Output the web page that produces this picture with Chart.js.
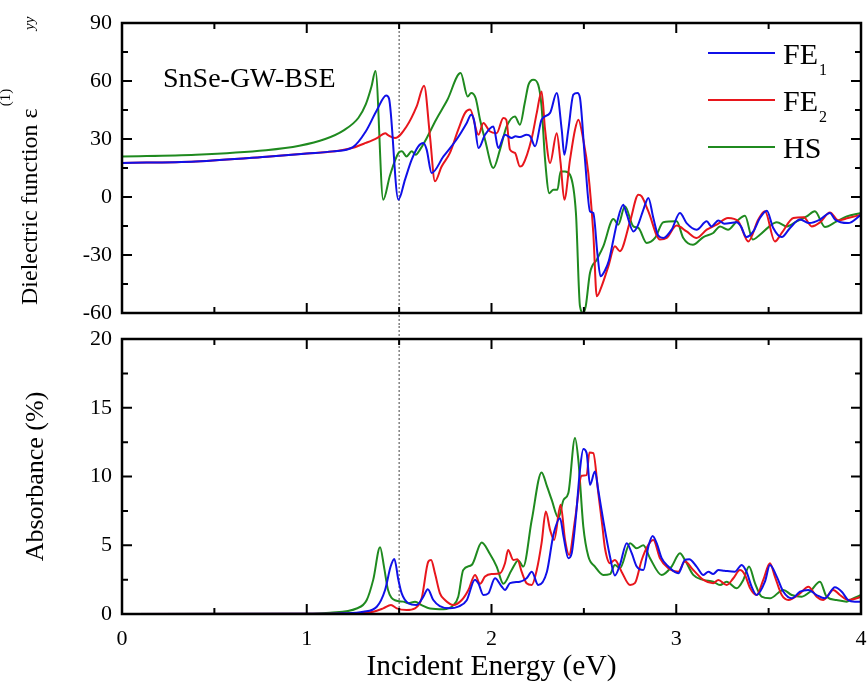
<!DOCTYPE html>
<html>
<head>
<meta charset="utf-8">
<script src="https://cdn.jsdelivr.net/npm/chart.js@4.4.0/dist/chart.umd.min.js"></script>
<style>
  body { margin: 0; background: #fff; overflow: hidden; }
  #wrap { position: relative; width: 867px; height: 686px; }
  canvas { position: absolute; left: 0; }
  #eps-canvas { top: 0; }
  #abs-canvas { top: 326px; }
</style>
</head>
<body>
<div id="wrap">
  <canvas id="eps-canvas" width="867" height="326"></canvas>
  <canvas id="abs-canvas" width="867" height="360"></canvas>
</div>
<script>
// ---- data: [energy eV, value] ----
const seriesNames = ['FE', 'FE', 'HS'];
const seriesSubs = ['1', '2', ''];
const seriesColors = ['#1010e8', '#e8161c', '#1f8a1f'];

const fe1Eps = [[0,17.6],[0.4,18.4],[0.8,21],[1.0,22.5],[1.14,23.6],[1.25,25.8],[1.32,34],[1.38,45],[1.43,52.5],[1.445,51],
  [1.496,-1.4],[1.532,9],[1.568,19.3],[1.604,26.2],[1.631,27.9],[1.649,24.5],[1.676,12.4],[1.74,21],[1.81,29.6],[1.866,38.3],
  [1.89,42.6],[1.905,40],[1.93,25.3],[1.965,32.2],[2.01,36.5],[2.037,25.3],[2.073,32.2],[2.109,30.5],[2.13,31.4],[2.154,31],
  [2.19,32.2],[2.21,31.4],[2.236,26.2],[2.271,40],[2.317,43.5],[2.353,53.8],[2.38,34.8],[2.394,21.9],[2.416,34.8],[2.443,52.9],
  [2.465,53.8],[2.479,51.2],[2.506,19.3],[2.533,-7.4],[2.551,-8.3],[2.573,-29],[2.59,-41],[2.614,-38],[2.635,-33],[2.66,-22],
  [2.68,-13],[2.713,-4],[2.73,-8.3],[2.768,-17.8],[2.79,-15.2],[2.825,-5.7],[2.849,-0.5],[2.876,-10.9],[2.903,-20],[2.93,-21.2],
  [2.975,-16.9],[3.02,-8.3],[3.056,-13.5],[3.11,-16.9],[3.165,-12.6],[3.19,-15.2],[3.228,-12.1],[3.26,-13.8],[3.327,-13.1],[3.35,-15.2],
  [3.38,-20.7],[3.417,-17.8],[3.453,-10.9],[3.49,-7.1],[3.525,-16],[3.571,-20.7],[3.616,-16],[3.67,-11.7],[3.72,-13.5],[3.778,-11.7],
  [3.832,-8.3],[3.86,-11.7],[3.93,-13.5],[4.0,-9.2]];

const fe2Eps = [[0,17.6],[0.4,18.4],[0.8,21],[1.0,22.5],[1.14,23.5],[1.25,25.5],[1.32,28],[1.38,30.5],[1.425,33],[1.44,32],
  [1.478,30.5],[1.54,36.5],[1.595,46.9],[1.635,57.6],[1.667,31.4],[1.694,8.1],[1.73,15.8],[1.775,22.8],[1.82,34.8],[1.857,43.5],
  [1.884,45.2],[1.93,32.2],[1.956,38.3],[1.99,34],[2.028,33],[2.064,40.9],[2.08,40],[2.1,24.5],[2.127,22.8],[2.154,15.8],
  [2.17,16.7],[2.218,30.5],[2.245,43.5],[2.271,54.6],[2.29,34.8],[2.317,17.6],[2.353,33],[2.374,17.6],[2.394,-1.4],[2.425,19.3],
  [2.452,34.8],[2.47,40],[2.497,29.6],[2.524,12.4],[2.551,-18.6],[2.57,-51.4],[2.596,-46.2],[2.632,-36],[2.668,-25.5],[2.695,-28],
  [2.75,-12.6],[2.795,1.2],[2.813,0.3],[2.849,-7.4],[2.912,-22],[2.948,-21.2],[3.002,-14.8],[3.056,-17.8],[3.11,-21.2],[3.165,-16.9],
  [3.219,-14.3],[3.28,-10.9],[3.336,-12.6],[3.39,-23],[3.444,-11.7],[3.48,-7.4],[3.534,-23],[3.571,-18.6],[3.634,-10.9],[3.69,-10.5],
  [3.733,-15.2],[3.778,-13.1],[3.832,-8],[3.877,-12.1],[3.93,-10.9],[4.0,-9.2]];

const hsEps = [[0,21],[0.4,21.9],[0.78,24.2],[0.96,26.5],[1.1,30],[1.2,34.5],[1.28,41],[1.32,48],[1.35,57],[1.372,65.2],[1.414,-1.4],
  [1.45,11],[1.496,22.7],[1.515,23.6],[1.54,21],[1.568,23.6],[1.59,21.9],[1.613,24.5],[1.64,28.8],[1.7,40],[1.76,50],
  [1.833,64.1],[1.871,52],[1.89,53.8],[1.914,51.2],[1.938,40],[1.965,29.6],[2.01,15],[2.046,24.5],[2.082,36.5],[2.127,41.7],
  [2.154,37.4],[2.18,48.6],[2.2,58],[2.226,60.7],[2.253,58],[2.271,46.9],[2.29,19.3],[2.313,2],[2.335,3.8],[2.357,3.8],
  [2.374,13.2],[2.398,13.2],[2.425,11.5],[2.457,-8.3],[2.479,-56.6],[2.497,-60],[2.51,-56.6],[2.533,-39.3],[2.57,-32.4],[2.605,-25.5],
  [2.66,-11.4],[2.686,-14.3],[2.722,-4.8],[2.768,-15.2],[2.795,-16],[2.84,-23.8],[2.885,-21.2],[2.93,-13.1],[3.002,-12.6],[3.038,-21.2],
  [3.09,-24.7],[3.147,-20.7],[3.2,-18.6],[3.237,-15.2],[3.28,-16.9],[3.327,-12.6],[3.372,-9.7],[3.414,-22],[3.453,-19.5],[3.498,-15.7],
  [3.544,-13.1],[3.6,-15.2],[3.652,-12.6],[3.706,-10],[3.75,-7.4],[3.805,-15.5],[3.868,-12.6],[3.923,-10],[4.0,-8.3]];

const fe1Abs = [[0,0],[1.0,0.01],[1.2,0.05],[1.306,0.17],[1.379,0.53],[1.424,1.75],[1.454,3.45],[1.474,4.0],[1.496,2.48],[1.514,1.5],
  [1.55,0.78],[1.595,0.65],[1.631,1.26],[1.655,1.8],[1.685,1.02],[1.72,0.58],[1.775,0.41],[1.82,0.53],[1.866,1.0],[1.91,2.5],
  [1.93,2.2],[1.956,1.38],[1.983,1.5],[2.019,2.6],[2.055,2.0],[2.073,1.75],[2.1,2.24],[2.154,2.35],[2.19,2.6],[2.218,3.08],
  [2.253,2.11],[2.3,3.08],[2.335,5.75],[2.371,6.97],[2.39,5.63],[2.416,4.06],[2.434,4.42],[2.457,7.09],[2.479,10.5],[2.497,12.0],
  [2.515,11.7],[2.533,9.4],[2.56,10.36],[2.578,9.0],[2.605,6.8],[2.641,4.2],[2.668,2.8],[2.695,3.57],[2.732,5.15],[2.759,4.42],
  [2.786,3.45],[2.822,3.2],[2.849,4.9],[2.872,5.68],[2.894,5.15],[2.921,4.06],[2.957,3.45],[3.011,2.96],[3.047,3.93],[3.07,3.98],
  [3.11,3.45],[3.147,2.84],[3.174,3.08],[3.2,2.91],[3.228,3.2],[3.26,3.15],[3.318,3.08],[3.354,3.57],[3.38,3.08],[3.408,1.99],
  [3.435,1.38],[3.48,2.35],[3.507,3.57],[3.544,2.72],[3.58,1.62],[3.625,1.14],[3.67,1.62],[3.715,1.75],[3.76,1.38],[3.805,1.14],
  [3.859,1.94],[3.896,1.62],[3.93,1.02],[3.967,0.9],[4.0,0.9]];

const fe2Abs = [[0,0],[1.0,0.01],[1.2,0.03],[1.36,0.17],[1.414,0.41],[1.456,0.65],[1.487,0.41],[1.54,0.29],[1.586,0.41],[1.622,1.14],
  [1.658,3.81],[1.673,3.93],[1.694,2.96],[1.721,1.5],[1.748,1.02],[1.794,0.65],[1.839,1.02],[1.875,1.75],[1.911,2.84],[1.938,2.2],
  [1.965,2.72],[2.0,2.91],[2.046,2.96],[2.073,3.69],[2.09,4.66],[2.118,3.93],[2.14,3.98],[2.163,3.08],[2.19,2.24],[2.218,2.11],
  [2.245,3.2],[2.271,5.15],[2.294,7.45],[2.317,6.12],[2.339,5.39],[2.374,7.94],[2.398,5.39],[2.42,4.3],[2.452,6.85],[2.488,10.05],
  [2.515,10.1],[2.53,11.75],[2.551,11.7],[2.578,8.8],[2.6,6.4],[2.614,4.8],[2.641,3.7],[2.668,3.93],[2.704,3.08],[2.75,2.11],
  [2.776,2.24],[2.813,3.93],[2.849,5.03],[2.876,5.39],[2.912,4.06],[2.957,3.33],[3.011,3.08],[3.047,3.81],[3.092,3.2],[3.147,2.48],
  [3.2,2.24],[3.228,2.48],[3.273,2.11],[3.309,2.6],[3.345,3.2],[3.372,2.84],[3.4,1.87],[3.435,1.38],[3.471,2.48],[3.507,3.69],
  [3.534,2.72],[3.571,1.38],[3.607,1.02],[3.67,1.5],[3.715,1.99],[3.76,1.26],[3.796,1.02],[3.85,1.75],[3.886,1.38],[3.93,1.02],
  [3.976,1.14],[4.0,1.26]];

const hsAbs = [[0,0],[0.9,0.01],[1.126,0.1],[1.27,0.4],[1.324,1.0],[1.36,2.5],[1.397,4.86],[1.418,3.45],[1.44,1.75],[1.478,1.0],
  [1.522,0.9],[1.55,0.78],[1.586,0.9],[1.622,0.65],[1.667,0.4],[1.74,0.35],[1.794,0.65],[1.82,1.26],[1.847,3.2],[1.893,3.57],
  [1.947,5.2],[1.99,4.4],[2.028,3.45],[2.064,2.2],[2.109,3.2],[2.145,3.9],[2.172,3.45],[2.218,6.85],[2.271,10.3],[2.3,9.3],
  [2.326,8.3],[2.362,7.0],[2.39,8.3],[2.416,8.8],[2.452,12.8],[2.47,11.2],[2.497,6.36],[2.524,4.2],[2.56,3.45],[2.605,2.84],
  [2.641,2.9],[2.668,3.57],[2.695,3.33],[2.75,5.15],[2.786,4.78],[2.822,5.0],[2.858,4.06],[2.921,2.84],[2.975,3.45],[3.02,4.42],
  [3.047,3.93],[3.092,2.84],[3.147,2.48],[3.2,2.35],[3.237,2.11],[3.273,2.35],[3.327,1.87],[3.363,2.48],[3.394,3.45],[3.426,2.24],
  [3.462,1.26],[3.507,1.14],[3.58,1.75],[3.625,1.38],[3.679,1.26],[3.724,1.62],[3.778,2.35],[3.814,1.26],[3.868,1.02],[3.923,0.9],
  [3.958,1.14],[4.0,1.38]];

const xMajor = [0, 1, 2, 3, 4];
const xMinor = [0.5, 1.5, 2.5, 3.5];
const epsMajor = [-60, -30, 0, 30, 60, 90];
const epsMinor = [-45, -15, 15, 45, 75];
const absMajor = [0, 5, 10, 15, 20];
const absMinor = [2.5, 7.5, 12.5, 17.5];
const markerEnergy = 1.5;
const sampleLabel = 'SnSe-GW-BSE';

const SERIF = '"Liberation Serif", "Times New Roman", serif';

function toPoints(pairs) {
  return pairs.map(p => ({ x: p[0], y: p[1] }));
}

function makeDatasets(list) {
  return list.map((pairs, i) => ({
    label: seriesNames[i] + seriesSubs[i],
    data: toPoints(pairs),
    borderColor: seriesColors[i],
    borderWidth: 2,
    pointRadius: 0,
    fill: false,
    cubicInterpolationMode: 'monotone',
  }));
}

// keep the plot box where the layout padding puts it (labels may overhang)
function fixWidth(w) {
  return (s) => { s.width = w; s.paddingTop = 0; s.paddingBottom = 0; s.paddingLeft = 0; s.paddingRight = 0; };
}
function fixHeight(h) {
  return (s) => { s.height = h; s.paddingTop = 0; s.paddingBottom = 0; s.paddingLeft = 0; s.paddingRight = 0; };
}

// frame, inward ticks on all sides, dotted marker line
const frameTicks = {
  id: 'frameTicks',
  beforeDatasetsDraw(chart, args, opts) {
    const { ctx, chartArea: a, scales } = chart;
    const px = scales.x.getPixelForValue(markerEnergy);
    ctx.save();
    ctx.strokeStyle = '#444';
    ctx.lineWidth = 1;
    ctx.setLineDash([2, 2]);
    ctx.beginPath();
    ctx.moveTo(px, opts.lineTop === 'canvas' ? 0 : a.top);
    ctx.lineTo(px, opts.lineBottom === 'canvas' ? chart.height : a.bottom);
    ctx.stroke();
    ctx.restore();
  },
  afterDraw(chart, args, opts) {
    const { ctx, chartArea: a, scales } = chart;
    const x = scales.x, y = scales.y;
    ctx.save();
    ctx.strokeStyle = '#000';
    ctx.lineWidth = 2;
    ctx.beginPath();
    const xt = (v, len) => {
      const p = x.getPixelForValue(v);
      ctx.moveTo(p, a.bottom); ctx.lineTo(p, a.bottom - len);
      ctx.moveTo(p, a.top); ctx.lineTo(p, a.top + len);
    };
    const yt = (v, len) => {
      const p = y.getPixelForValue(v);
      ctx.moveTo(a.left, p); ctx.lineTo(a.left + len, p);
      ctx.moveTo(a.right, p); ctx.lineTo(a.right - len, p);
    };
    xMajor.forEach(v => xt(v, 10));
    xMinor.forEach(v => xt(v, 6));
    opts.yMajor.forEach(v => yt(v, 10));
    opts.yMinor.forEach(v => yt(v, 6));
    ctx.stroke();
    ctx.lineWidth = 2.5;
    ctx.strokeRect(a.left, a.top, a.right - a.left, a.bottom - a.top);
    ctx.restore();
  }
};

// legend, sample label and the y title with super/subscripts (top panel)
const epsText = {
  id: 'epsText',
  afterDraw(chart) {
    const { ctx } = chart;
    ctx.save();
    ctx.fillStyle = '#000';
    ctx.font = '28px ' + SERIF;
    ctx.textBaseline = 'alphabetic';
    ctx.fillText(sampleLabel, 163, 87);

    const rows = [53, 100, 147];
    rows.forEach((ry, i) => {
      ctx.strokeStyle = seriesColors[i];
      ctx.lineWidth = 2;
      ctx.beginPath();
      ctx.moveTo(708, ry);
      ctx.lineTo(775, ry);
      ctx.stroke();
      ctx.font = '30px ' + SERIF;
      ctx.fillText(seriesNames[i], 783, ry + 11);
      if (seriesSubs[i]) {
        const w = ctx.measureText(seriesNames[i]).width;
        ctx.font = '16px ' + SERIF;
        ctx.fillText(seriesSubs[i], 783 + w + 1, ry + 22);
      }
    });

    ctx.translate(37, 305);
    ctx.rotate(-Math.PI / 2);
    ctx.font = '24px ' + SERIF;
    const main = 'Dielectric function ε';
    ctx.fillText(main, 0, 0);
    const w = ctx.measureText(main).width;
    ctx.font = '15px ' + SERIF;
    ctx.fillText('(1)', w + 2, -27);
    ctx.font = 'italic 15px ' + SERIF;
    ctx.fillText('yy', 275, -3);
    ctx.restore();
  }
};

const tickFont = { family: SERIF, size: 22 };

const epsChart = new Chart('eps-canvas', {
  type: 'line',
  data: { datasets: makeDatasets([fe1Eps, fe2Eps, hsEps]) },
  options: {
    responsive: false,
    animation: false,
    layout: { padding: { top: 23, right: 6, bottom: 13, left: 0 } },
    scales: {
      x: {
        type: 'linear', min: 0, max: 4, display: false,
      },
      y: {
        min: -60, max: 90,
        afterFit: fixWidth(122),
        grid: { display: false, drawTicks: false },
        border: { display: false },
        ticks: { stepSize: 30, padding: 10, color: '#000', font: tickFont },
      },
    },
    plugins: {
      legend: { display: false },
      tooltip: { enabled: false },
      frameTicks: { yMajor: epsMajor, yMinor: epsMinor, lineBottom: 'canvas' },
    },
  },
  plugins: [frameTicks, epsText],
});

const absChart = new Chart('abs-canvas', {
  type: 'line',
  data: { datasets: makeDatasets([fe1Abs, fe2Abs, hsAbs]) },
  options: {
    responsive: false,
    animation: false,
    layout: { padding: { top: 13, right: 6, bottom: 0, left: 0 } },
    scales: {
      x: {
        type: 'linear', min: 0, max: 4,
        afterFit: fixHeight(72),
        grid: { display: false, drawTicks: false },
        border: { display: false },
        ticks: { stepSize: 1, padding: 12, color: '#000', font: tickFont, maxRotation: 0 },
        title: {
          display: true, text: 'Incident Energy (eV)', color: '#000',
          font: { family: SERIF, size: 29.5 }, padding: { top: 0, bottom: 1 },
        },
      },
      y: {
        min: 0, max: 20,
        afterFit: fixWidth(122),
        grid: { display: false, drawTicks: false },
        border: { display: false },
        ticks: { stepSize: 5, padding: 10, color: '#000', font: tickFont },
        title: {
          display: true, text: 'Absorbance (%)', color: '#000',
          font: { family: SERIF, size: 26 }, padding: { top: 21, bottom: 0 },
        },
      },
    },
    plugins: {
      legend: { display: false },
      tooltip: { enabled: false },
      frameTicks: { yMajor: absMajor, yMinor: absMinor, lineTop: 'canvas' },
    },
  },
  plugins: [frameTicks],
});
</script>
</body>
</html>
